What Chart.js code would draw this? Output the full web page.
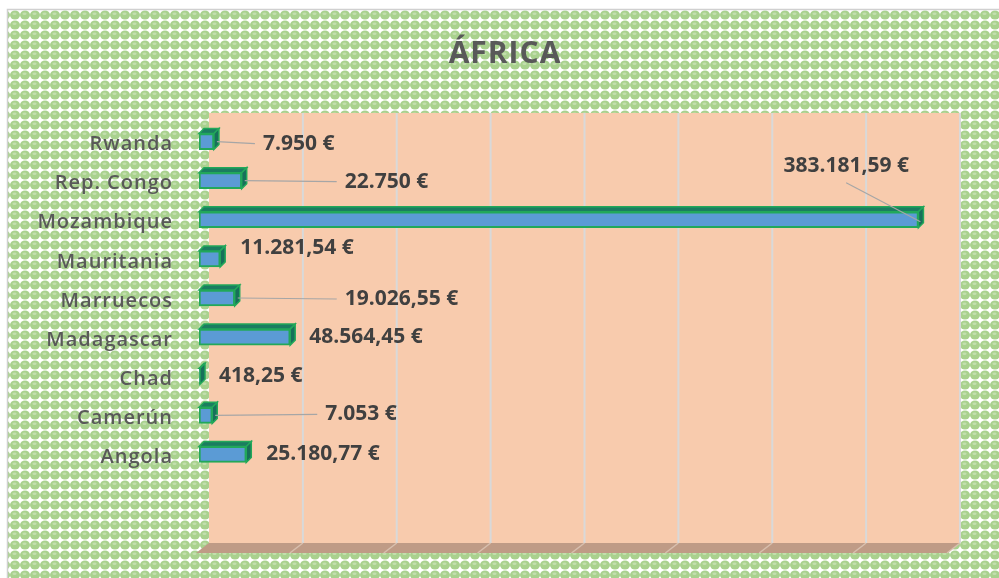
<!DOCTYPE html>
<html>
<head>
<meta charset="utf-8">
<title>África</title>
<script src="https://cdn.jsdelivr.net/npm/chart.js@4.4.1/dist/chart.umd.min.js"></script>
<style>
  html,body{margin:0;padding:0;background:#fff;}
  #wrap{width:999px;height:578px;position:relative;}
</style>
</head>
<body>
<div id="wrap"><canvas id="chart"></canvas></div>
<script>
// Data
const chartTitle="ÁFRICA";
const countries=["Rwanda","Rep. Congo","Mozambique","Mauritania","Marruecos","Madagascar","Chad","Camerún","Angola"];
const amounts=[7950,22750,383181.59,11281.54,19026.55,48564.45,418.25,7053,25180.77];
const axisMax=400000, axisStep=50000;

// where each data label was dragged to (dx from bar end, dy from bar centre), true = leader line
const labelMoves=[[49,2,true],[103,1,true],[-135,-54,true],[20,-11,false],[110,1,true],[19,0,false],[19,0,false],[113,-1,true],[20,0,false]];

// 3d look
const DX=10, DY=10;       // wall / floor depth
const BX=5, BY=5;         // bar depth

function euro(v){
  let neg=v<0; v=Math.abs(v);
  let whole=Math.floor(v), cents=Math.round((v-whole)*100);
  let s=String(whole).replace(/\B(?=(\d{3})+(?!\d))/g,".");
  if(cents>0) s+=","+String(cents).padStart(2,"0");
  return (neg?"-":"")+s+" €";
}

function makePattern(ctx){
  const n=10;
  const t=document.createElement("canvas"); t.width=n; t.height=n;
  const c=t.getContext("2d");
  c.fillStyle="#fff"; c.fillRect(0,0,n,n);
  c.fillStyle="#a9d18e"; c.beginPath(); c.ellipse(n/2,n/2,5,4.6,0,0,Math.PI*2); c.fill();
  c.fillStyle="#c3dfae"; c.beginPath(); c.ellipse(n/2-0.5,n/2-1.3,2.1,1.2,0,0,Math.PI*2); c.fill();
  return ctx.createPattern(t,"repeat");
}

// background, title, back wall, gridlines and floor
const scenery={
  id:"scenery",
  beforeDraw(chart){
    const ctx=chart.ctx, xs=chart.scales.x;
    const top=113, floor=543;
    ctx.save();
    ctx.fillStyle=makePattern(ctx);
    ctx.fillRect(8,10,chart.width-8,chart.height-10);
    ctx.strokeStyle="#d0d0d0"; ctx.lineWidth=1.5;
    ctx.beginPath(); ctx.moveTo(7.5,chart.height); ctx.lineTo(7.5,9.5); ctx.lineTo(chart.width,9.5); ctx.stroke();

    // title
    ctx.letterSpacing="1px";
    ctx.font="bold 30px 'Open Sans'"; ctx.fillStyle="#595959";
    ctx.textAlign="center"; ctx.textBaseline="middle";
    ctx.fillText(chartTitle,505,54);
    ctx.letterSpacing="0px";

    // wall
    const wl=xs.getPixelForValue(0)+DX, wr=xs.getPixelForValue(axisMax)+DX;
    ctx.fillStyle="#f8cbad";
    ctx.fillRect(wl,top,wr-wl,floor-top);

    // floor
    ctx.fillStyle="#bf9b86";
    ctx.beginPath();
    ctx.moveTo(wl,floor); ctx.lineTo(wr,floor); ctx.lineTo(wr-DX-3,floor+DY); ctx.lineTo(wl-DX-3,floor+DY); ctx.closePath(); ctx.fill();

    // gridlines
    for(let v=axisStep;v<=axisMax;v+=axisStep){
      const x=xs.getPixelForValue(v)+DX;
      ctx.strokeStyle="#d9d9d9"; ctx.lineWidth=2;
      ctx.beginPath(); ctx.moveTo(x,top); ctx.lineTo(x,floor); ctx.stroke();
      ctx.strokeStyle="#d8bfae"; ctx.lineWidth=1.5;
      ctx.beginPath(); ctx.moveTo(x,floor); ctx.lineTo(x-DX-3,floor+DY); ctx.stroke();
    }
    ctx.restore();
    ctx.letterSpacing="1px";   // spaced-out category labels
  },
  beforeDatasetsDraw(chart){ chart.ctx.letterSpacing="0px"; }
};

// top and side faces of the bars
const bars3d={
  id:"bars3d",
  afterDatasetsDraw(chart){
    const ctx=chart.ctx;
    ctx.save();
    chart.getDatasetMeta(0).data.forEach(b=>{
      const p=b.getProps(["x","y","base","height"],true);
      const t=p.y-p.height/2, btm=p.y+p.height/2, l=p.base, r=Math.max(p.x,p.base+1);
      ctx.fillStyle="#1b7d60"; ctx.strokeStyle="#22a85a"; ctx.lineWidth=1.5;
      ctx.beginPath();
      ctx.moveTo(l,t); ctx.lineTo(l+BX,t-BY); ctx.lineTo(r+BX,t-BY); ctx.lineTo(r,t); ctx.closePath();
      ctx.fill(); ctx.stroke();
      ctx.fillStyle="#17705a";
      ctx.beginPath();
      ctx.moveTo(r,t); ctx.lineTo(r+BX,t-BY); ctx.lineTo(r+BX,btm-BY); ctx.lineTo(r,btm); ctx.closePath();
      ctx.fill(); ctx.stroke();
    });
    ctx.restore();
  }
};

// data labels, with leader lines where they were moved
const valueLabels={
  id:"valueLabels",
  afterDraw(chart){
    const ctx=chart.ctx;
    ctx.save();
    ctx.letterSpacing="0px";
    ctx.font="bold 21px 'Open Sans'";
    ctx.textBaseline="middle"; ctx.textAlign="left";
    chart.getDatasetMeta(0).data.forEach((b,i)=>{
      const m=labelMoves[i], txt=euro(amounts[i]);
      const end=Math.max(b.x,b.base+1);
      const lx=end+m[0], ly=b.y+m[1];
      if(m[2]){
        ctx.strokeStyle="#a6a6a6"; ctx.lineWidth=1.2;
        ctx.beginPath();
        if(m[1]<-30){
          const w=ctx.measureText(txt).width;
          ctx.moveTo(lx+w*0.5,ly+17); ctx.lineTo(end+2,b.y+2);
        }else{
          ctx.moveTo(end+3,b.y); ctx.lineTo(lx-8,ly);
        }
        ctx.stroke();
      }
      ctx.fillStyle="#404040";
      ctx.fillText(txt,lx,ly);
    });
    ctx.restore();
  }
};

new Chart(document.getElementById("chart"),{
  type:"bar",
  data:{
    labels:countries,
    datasets:[{
      data:amounts,
      backgroundColor:"#5b9bd5",
      borderColor:"#22a85a",
      borderWidth:2,
      borderSkipped:false,
      barThickness:16
    }]
  },
  options:{
    indexAxis:"y",
    responsive:true,
    maintainAspectRatio:false,
    animation:false,
    layout:{padding:{left:0,right:49,top:122,bottom:96}},
    plugins:{
      legend:{display:false},
      tooltip:{enabled:false},
      title:{display:false}
    },
    scales:{
      x:{
        min:0,max:axisMax,
        ticks:{display:false,stepSize:axisStep},
        grid:{display:false},
        border:{display:false}
      },
      y:{
        ticks:{color:"#595959",font:{family:"'Open Sans'",size:20,weight:600},padding:18,labelOffset:3},
        grid:{display:false},
        border:{display:false},
        afterFit(scale){ scale.width=199; }
      }
    }
  },
  plugins:[scenery,bars3d,valueLabels]
});
</script>
</body>
</html>
